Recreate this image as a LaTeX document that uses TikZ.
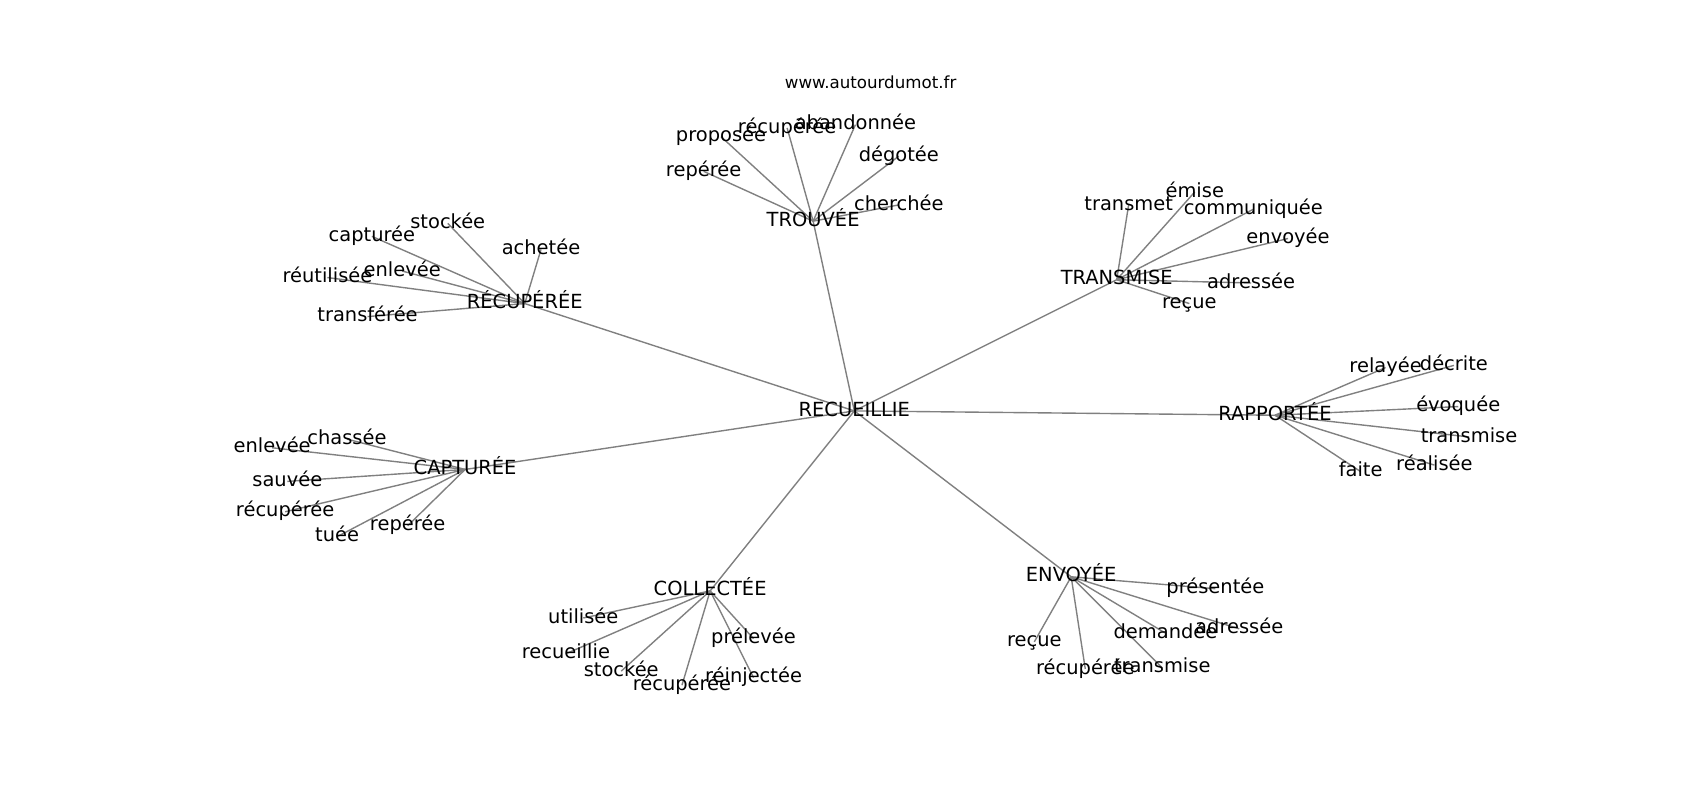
\documentclass[tikz,border=0pt]{standalone}
\usepackage{fontspec}
\setmainfont{DejaVu Sans}
\usetikzlibrary{backgrounds}
\begin{document}
\begin{tikzpicture}[x=0.7806bp,y=-0.7806bp,
  lbl/.style={font=\fontsize{14bp}{16bp}\selectfont, inner sep=0pt, text height=10.64bp, text depth=3.3bp, anchor=center},
  ttl/.style={font=\fontsize{12bp}{14bp}\selectfont, inner sep=0pt, text height=9.12bp, text depth=2.83bp, anchor=center},
  edge/.style={draw=gray, line width=1bp}]
\useasboundingbox (0,-2) rectangle (1568,736);
% hubs
\node[lbl] (h0) at (788,377) {RECUEILLIE};
\node[lbl] (t) at (750,202) {TROUVÉE};
\node[lbl] (r) at (484,278) {RÉCUPÉRÉE};
\node[lbl] (m) at (1030,256) {TRANSMISE};
\node[lbl] (p) at (1176,381) {RAPPORTÉE};
\node[lbl] (c) at (429,431) {CAPTURÉE};
\node[lbl] (k) at (655,543) {COLLECTÉE};
\node[lbl] (e) at (988,530) {ENVOYÉE};
% title
\node[ttl] (url) at (803,76) {www.autourdumot.fr};
% TROUVÉE leaves
\node[lbl] (t1) at (665,124) {proposée};
\node[lbl] (t2) at (726,116) {récupérée};
\node[lbl] (t3) at (789,113) {abandonnée};
\node[lbl] (t4) at (829,142) {dégotée};
\node[lbl] (t5) at (649,156) {repérée};
\node[lbl] (t6) at (829,187) {cherchée};
% RÉCUPÉRÉE leaves
\node[lbl] (r1) at (343,216) {capturée};
\node[lbl] (r2) at (413,204) {stockée};
\node[lbl] (r3) at (499,228) {achetée};
\node[lbl] (r4) at (302,254) {réutilisée};
\node[lbl] (r5) at (371,248) {enlevée};
\node[lbl] (r6) at (339,290) {transférée};
% TRANSMISE leaves
\node[lbl] (m1) at (1041,187) {transmet};
\node[lbl] (m2) at (1102,175) {émise};
\node[lbl] (m3) at (1156,191) {communiquée};
\node[lbl] (m4) at (1188,218) {envoyée};
\node[lbl] (m5) at (1154,259) {adressée};
\node[lbl] (m6) at (1097,278) {reçue};
% RAPPORTÉE leaves
\node[lbl] (p1) at (1278,337) {relayée};
\node[lbl] (p2) at (1341,335) {décrite};
\node[lbl] (p3) at (1345,373) {évoquée};
\node[lbl] (p4) at (1355,401) {transmise};
\node[lbl] (p5) at (1323,427) {réalisée};
\node[lbl] (p6) at (1255,433) {faite};
% CAPTURÉE leaves
\node[lbl] (c1) at (320,403) {chassée};
\node[lbl] (c2) at (251,411) {enlevée};
\node[lbl] (c3) at (265,442) {sauvée};
\node[lbl] (c4) at (263,470) {récupérée};
\node[lbl] (c5) at (311,493) {tuée};
\node[lbl] (c6) at (376,483) {repérée};
% COLLECTÉE leaves
\node[lbl] (k1) at (538,568) {utilisée};
\node[lbl] (k2) at (522,601) {recueillie};
\node[lbl] (k3) at (573,617) {stockée};
\node[lbl] (k4) at (629,630) {récupérée};
\node[lbl] (k5) at (695,587) {prélevée};
\node[lbl] (k6) at (695,623) {réinjectée};
% ENVOYÉE leaves
\node[lbl] (e1) at (1121,541) {présentée};
\node[lbl] (e2) at (1143,578) {adressée};
\node[lbl] (e3) at (1075,582) {demandée};
\node[lbl] (e4) at (954,590) {reçue};
\node[lbl] (e5) at (1001,615) {récupérée};
\node[lbl] (e6) at (1072,614) {transmise};
\begin{scope}[on background layer]
\fill[white] (0,-2) rectangle (1568,736);
\foreach \h in {t,r,m,p,c,k,e} {\draw[edge] (h0.center) -- (\h.center);}
\foreach \h in {t,r,m,p,c,k,e} {\foreach \i in {1,...,6} {\draw[edge] (\h.center) -- (\h\i.center);}}
\end{scope}
\end{tikzpicture}
\end{document}
